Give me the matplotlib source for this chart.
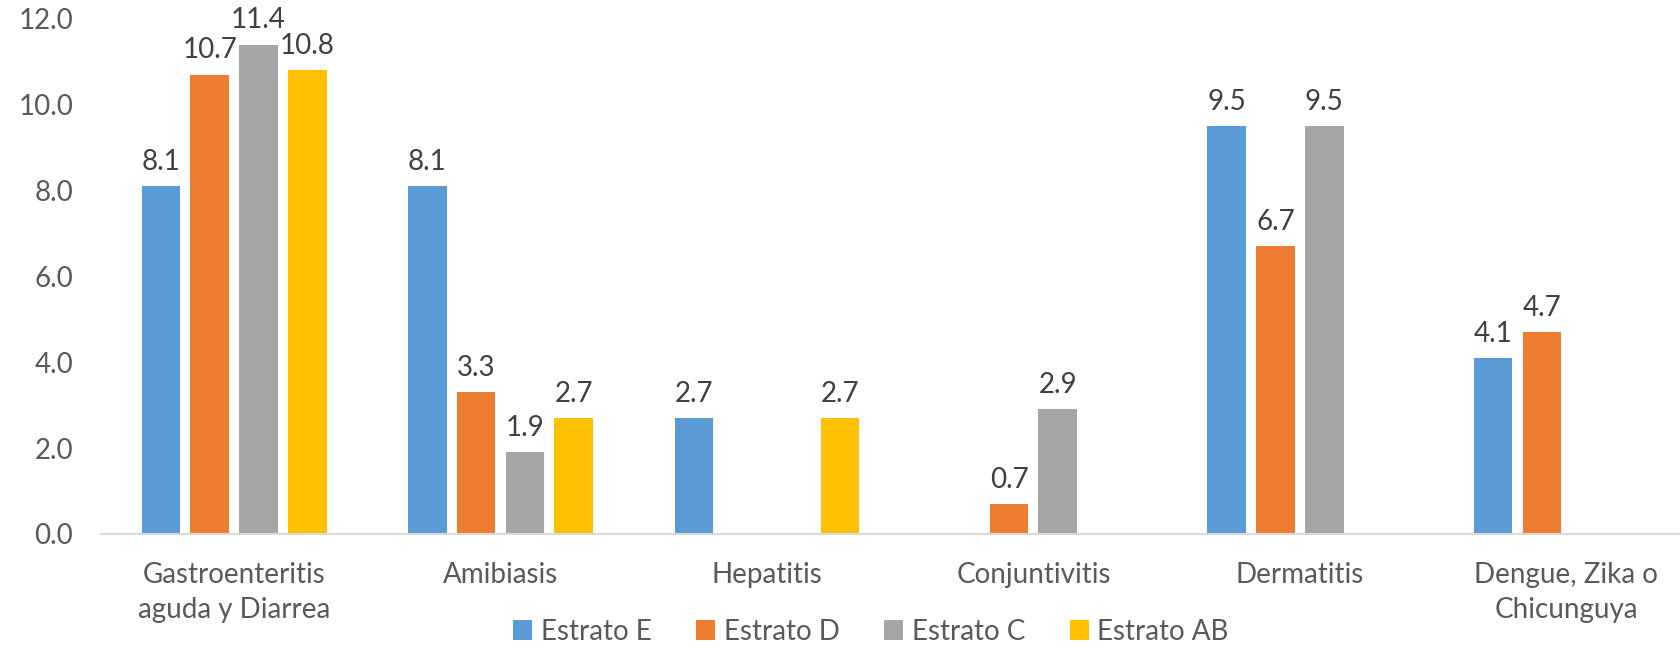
import numpy as np
import matplotlib
matplotlib.use("Agg")
import matplotlib.pyplot as plt

categorias = ["Gastroenteritis\naguda y Diarrea", "Amibiasis", "Hepatitis",
              "Conjuntivitis", "Dermatitis", "Dengue, Zika o\nChicunguya"]
series = ["Estrato E", "Estrato D", "Estrato C", "Estrato AB"]
estrato_e = [8.1, 8.1, 2.7, np.nan, 9.5, 4.1]
estrato_d = [10.7, 3.3, np.nan, 0.7, 6.7, 4.7]
estrato_c = [11.4, 1.9, np.nan, 2.9, 9.5, np.nan]
estrato_ab = [10.8, 2.7, 2.7, np.nan, np.nan, np.nan]
valores = [estrato_e, estrato_d, estrato_c, estrato_ab]
colores = ["#5B9BD5", "#ED7D31", "#A5A5A5", "#FFC000"]

plt.rcParams["font.family"] = ["Lato", "DejaVu Sans"]

fig = plt.figure(figsize=(16.81, 6.48), dpi=100)
ax = fig.add_axes([0.06, 0.176, 0.951, 0.795])

x = np.arange(len(categorias))
paso = 0.183
ancho = 0.145
for i, (nombre, vals, col) in enumerate(zip(series, valores, colores)):
    pos = x + (i - 1.5) * paso
    bars = ax.bar(pos, np.nan_to_num(vals), width=ancho, color=col, label=nombre)
    # sin etiqueta donde no hay dato
    etiquetas = ["" if np.isnan(v) else f"{v:.1f}" for v in vals]
    ax.bar_label(bars, labels=etiquetas, padding=8, fontsize=20, color="#404040")

ax.set_xlim(-0.5, len(categorias) - 0.5)
ax.set_ylim(0, 12)
ax.set_yticks(np.arange(0, 12.1, 2))
ax.set_yticklabels([f"{t:.1f}" for t in np.arange(0, 12.1, 2)])
ax.set_xticks(x)
ax.set_xticklabels(categorias, linespacing=1.45)
ax.tick_params(axis="both", length=0, labelsize=20, labelcolor="#595959")
ax.tick_params(axis="y", pad=20)
ax.tick_params(axis="x", pad=20)
for s in ["top", "right", "left"]:
    ax.spines[s].set_visible(False)
ax.spines["bottom"].set_color("#D9D9D9")
ax.spines["bottom"].set_linewidth(1.5)

fig.legend(loc="center", bbox_to_anchor=(0.518, 0.025), ncol=4, frameon=False,
           fontsize=20, labelcolor="#595959", handlelength=0.7, handleheight=0.7,
           handletextpad=0.3, columnspacing=1.6)

fig.savefig("out.png", dpi=100)
